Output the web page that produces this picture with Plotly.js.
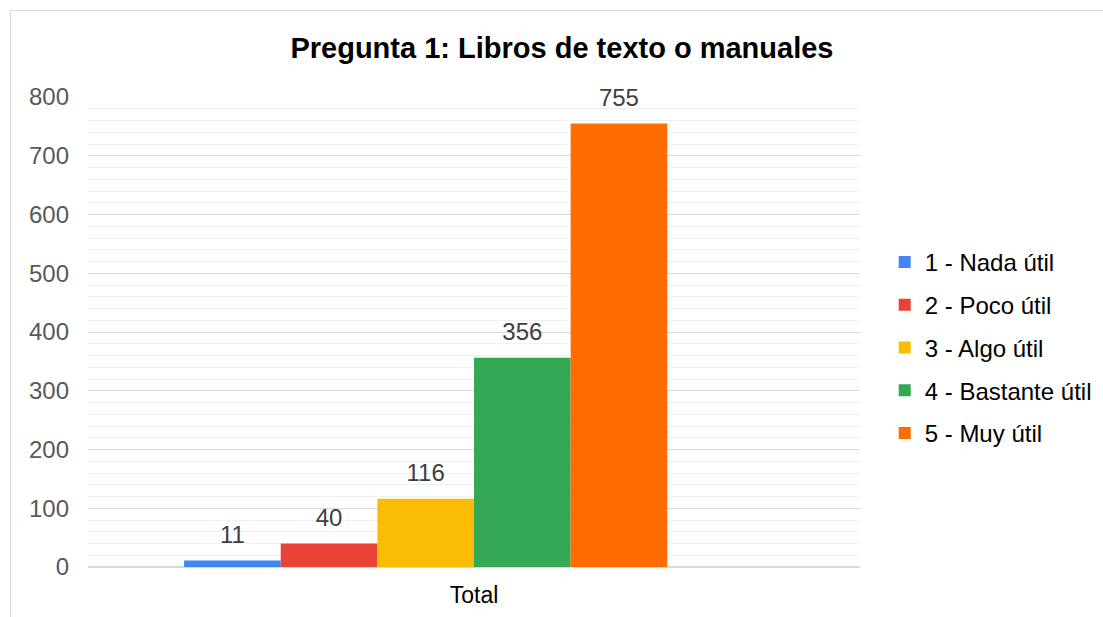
<!DOCTYPE html>
<html>
<head>
<meta charset="utf-8">
<script src="https://cdn.plot.ly/plotly-3.0.1.min.js"></script>
<style>
html,body{margin:0;padding:0;background:#fff;}
#frame{position:absolute;left:10px;top:10px;width:1200px;height:700px;border:1px solid #d9d9d9;}
#chart{position:absolute;left:0;top:0;width:1103px;height:617px;}
</style>
</head>
<body>
<div id="frame"></div>
<div id="chart"></div>
<script>
const categories = ["Total"];
const seriesNames = ["1 - Nada útil", "2 - Poco útil", "3 - Algo útil", "4 - Bastante útil", "5 - Muy útil"];
const seriesValues = [11, 40, 116, 356, 755];
const seriesColors = ["#4285F4", "#EA4335", "#FBBC04", "#34A853", "#FF6D01"];

const barTraces = seriesNames.map((name, i) => ({
  type: "bar",
  name: name,
  legendgroup: "g" + i,
  x: categories,
  y: [seriesValues[i]],
  marker: {color: seriesColors[i]},
  hoverinfo: "skip"
}));
// empty sixth slot (blank series in the source chart)
barTraces.push({type: "bar", name: "", x: categories, y: [null], showlegend: false, hoverinfo: "skip"});

// data labels, aligned with the grouped bars by the library's grouping
const labelTraces = seriesNames.map((name, i) => ({
  type: "scatter",
  mode: "markers+text",
  x: categories,
  y: [seriesValues[i]],
  text: [String(seriesValues[i])],
  textposition: "top center",
  textfont: {family: "Liberation Sans, Arial, sans-serif", size: 24, color: "#404040"},
  marker: {size: 17, opacity: 0},
  showlegend: false,
  hoverinfo: "skip",
  cliponaxis: false
}));
labelTraces.push({type: "scatter", mode: "markers", x: categories, y: [null], marker: {opacity: 0}, showlegend: false, hoverinfo: "skip"});

const layout = {
  width: 1103, height: 617,
  paper_bgcolor: "rgba(0,0,0,0)",
  plot_bgcolor: "rgba(0,0,0,0)",
  margin: {l: 88, r: 243, t: 97, b: 50, autoexpand: false},
  font: {family: "Liberation Sans, Arial, sans-serif"},
  title: {
    text: "<b>Pregunta 1: Libros de texto o manuales</b>",
    font: {size: 29, color: "#000"},
    x: 0.5095, xref: "container", xanchor: "center",
    y: 0.922, yref: "container", yanchor: "middle"
  },
  barmode: "group",
  bargap: 0.249,
  bargroupgap: 0,
  scattermode: "group",
  scattergap: 0.249,
  xaxis: {
    showgrid: false, zeroline: false, showline: false,
    ticks: "", tickfont: {size: 23, color: "#000"},
    ticklabelstandoff: 12
  },
  yaxis: {
    range: [0, 800], dtick: 100,
    showgrid: true, gridcolor: "#d9d9d9", gridwidth: 1,
    zeroline: true, zerolinecolor: "#d9d9d9", zerolinewidth: 2,
    showline: false, ticks: "",
    tickfont: {size: 24, color: "#595959"},
    ticklabelstandoff: 18,
    minor: {dtick: 20, showgrid: true, gridcolor: "#f0f0f0", gridwidth: 1}
  },
  legend: {
    x: 1.032, xanchor: "left", y: 0.467, yanchor: "middle",
    font: {size: 24, color: "#000"},
    itemwidth: 30,
    traceorder: "grouped",
    tracegroupgap: 8.5,
    bgcolor: "rgba(0,0,0,0)"
  },
  showlegend: true
};

Plotly.newPlot("chart", barTraces.concat(labelTraces), layout, {displayModeBar: false, staticPlot: true});
</script>
</body>
</html>
